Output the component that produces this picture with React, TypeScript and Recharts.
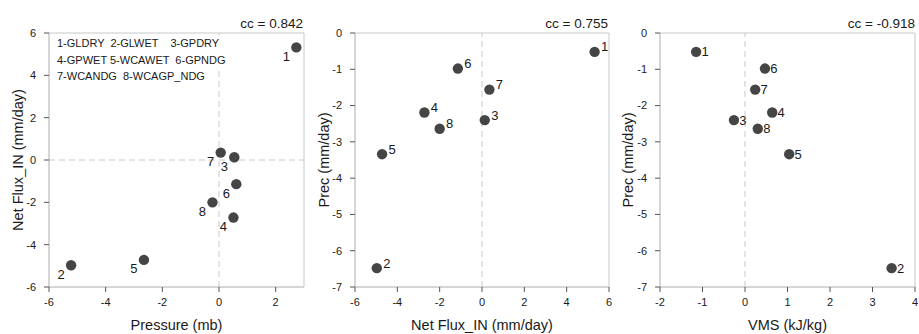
import React from "react";
import {
  ScatterChart,
  Scatter,
  XAxis,
  YAxis,
  ReferenceLine,
  ReferenceArea,
} from "recharts";

const ids = [1, 2, 3, 4, 5, 6, 7, 8];
const pressure = [2.73, -5.22, 0.54, 0.51, -2.65, 0.61, 0.06, -0.23];
const netFlux = [5.32, -4.97, 0.13, -2.72, -4.72, -1.14, 0.35, -2.0];
const prec = [-0.52, -6.48, -2.4, -2.19, -3.34, -0.98, -1.56, -2.64];
const vms = [-1.15, 3.45, -0.26, 0.64, 1.04, 0.47, 0.24, 0.3];

// legend rows as they are typed in the original figure
const legendRows = [
  "1-GLDRY  2-GLWET    3-GPDRY",
  "4-GPWET 5-WCAWET  6-GPNDG",
  "7-WCANDG  8-WCAGP_NDG",
];
const ccValues = ["cc = 0.842", "cc = 0.755", "cc = -0.918"];

const FONT = "'Liberation Sans', Arial, Helvetica, sans-serif";
const DOT = "#454545";
const BOX = "#c8c8c8";
const TICK = "#555";
const TEXT = "#1a1a1a";

type Pt = { id: number; x: number; y: number };

const zip = (xs: number[], ys: number[]): Pt[] =>
  ids.map((id, i) => ({ id, x: xs[i], y: ys[i] }));

const panel1 = zip(pressure, netFlux);
const panel2 = zip(netFlux, prec);
const panel3 = zip(vms, prec);

// dot plus its number, offset differs per panel
const makeShape = (dx: number, dy: number) => (props: any) => {
  const { cx, cy, payload } = props;
  return (
    <g>
      <circle cx={cx} cy={cy} r={5.2} fill={DOT} />
      <text
        x={cx + dx}
        y={cy + dy}
        textAnchor="middle"
        dominantBaseline="central"
        fontSize={13}
        fill={TEXT}
      >
        {payload.id}
      </text>
    </g>
  );
};

const yTitle = (text: string, x: number) => (props: any) => {
  const vb = props.viewBox;
  const cy = vb.y + vb.height / 2;
  return (
    <text
      x={x}
      y={cy}
      transform={`rotate(-90 ${x} ${cy})`}
      textAnchor="middle"
      dominantBaseline="central"
      fontSize={14.5}
      fill={TEXT}
    >
      {text}
    </text>
  );
};

const xTitle = (text: string) => (props: any) => {
  const vb = props.viewBox;
  return (
    <text
      x={vb.x + vb.width / 2}
      y={vb.y + 38}
      textAnchor="middle"
      dominantBaseline="central"
      fontSize={14.5}
      fill={TEXT}
    >
      {text}
    </text>
  );
};

interface PanelProps {
  data: Pt[];
  width: number;
  yWidth: number;
  right: number;
  xDomain: [number, number];
  yDomain: [number, number];
  xTicks: number[];
  yTicks: number[];
  xLabel: string;
  yLabel: string;
  yLabelX: number;
  zeroY: boolean;
  dx: number;
  dy: number;
}

function Panel(p: PanelProps) {
  const tick = { fontSize: 11, fill: TEXT };
  return (
    <ScatterChart
      width={p.width}
      height={334}
      margin={{ top: 33, right: p.right, bottom: 0, left: 0 }}
    >
      <XAxis
        type="number"
        dataKey="x"
        domain={p.xDomain}
        ticks={p.xTicks}
        allowDataOverflow
        height={47}
        tickSize={5}
        tickMargin={6}
        axisLine={{ stroke: BOX }}
        tickLine={{ stroke: TICK }}
        tick={tick}
        label={xTitle(p.xLabel)}
      />
      <YAxis
        type="number"
        dataKey="y"
        domain={p.yDomain}
        ticks={p.yTicks}
        allowDataOverflow
        width={p.yWidth}
        tickSize={5}
        tickMargin={8}
        axisLine={{ stroke: BOX }}
        tickLine={{ stroke: TICK }}
        tick={tick}
        label={yTitle(p.yLabel, p.yLabelX)}
      />
      <ReferenceArea
        x1={p.xDomain[0]}
        x2={p.xDomain[1]}
        y1={p.yDomain[0]}
        y2={p.yDomain[1]}
        fill="none"
        stroke={BOX}
      />
      <ReferenceLine x={0} stroke={BOX} strokeDasharray="6 4" />
      {p.zeroY && <ReferenceLine y={0} stroke={BOX} strokeDasharray="6 4" />}
      <Scatter
        data={p.data}
        isAnimationActive={false}
        shape={makeShape(p.dx, p.dy)}
      />
    </ScatterChart>
  );
}

export default function App() {
  return (
    <div
      style={{
        position: "absolute",
        left: 0,
        top: 0,
        width: 919,
        height: 334,
        background: "#fff",
        fontFamily: FONT,
      }}
    >
      <div style={{ position: "absolute", left: 0, top: 0 }}>
        <Panel
          data={panel1}
          width={310}
          yWidth={49}
          right={6}
          xDomain={[-6, 3]}
          yDomain={[-6, 6]}
          xTicks={[-6, -4, -2, 0, 2]}
          yTicks={[-6, -4, -2, 0, 2, 4, 6]}
          xLabel="Pressure (mb)"
          yLabel="Net Flux_IN (mm/day)"
          yLabelX={18}
          zeroY
          dx={-10}
          dy={9}
        />
      </div>
      <div style={{ position: "absolute", left: 310, top: 0 }}>
        <Panel
          data={panel2}
          width={305}
          yWidth={45}
          right={6}
          xDomain={[-6, 6]}
          yDomain={[-7, 0]}
          xTicks={[-6, -4, -2, 0, 2, 4, 6]}
          yTicks={[-7, -6, -5, -4, -3, -2, -1, 0]}
          xLabel="Net Flux_IN (mm/day)"
          yLabel="Prec (mm/day)"
          yLabelX={14}
          zeroY={false}
          dx={10}
          dy={-5}
        />
      </div>
      <div style={{ position: "absolute", left: 615, top: 0 }}>
        <Panel
          data={panel3}
          width={304}
          yWidth={45}
          right={4}
          xDomain={[-2, 4]}
          yDomain={[-7, 0]}
          xTicks={[-2, -1, 0, 1, 2, 3, 4]}
          yTicks={[-7, -6, -5, -4, -3, -2, -1, 0]}
          xLabel="VMS (kJ/kg)"
          yLabel="Prec (mm/day)"
          yLabelX={13}
          zeroY={false}
          dx={9}
          dy={0}
        />
      </div>
      {/* legend block in the first panel, white behind the top two rows */}
      <div
        style={{
          position: "absolute",
          left: 54,
          top: 35,
          width: 176,
          height: 34,
          background: "#fff",
        }}
      />
      {legendRows.map((t, i) => (
        <div
          key={t}
          style={{
            position: "absolute",
            left: 57,
            top: 35 + i * 16.7,
            fontSize: 11,
            lineHeight: "16px",
            color: TEXT,
            whiteSpace: "pre",
          }}
        >
          {t}
        </div>
      ))}
      {ccValues.map((t, i) => (
        <div
          key={t}
          style={{
            position: "absolute",
            right: [919 - 303, 919 - 608, 919 - 915][i],
            top: 15,
            fontSize: 13.5,
            lineHeight: "17px",
            color: TEXT,
            whiteSpace: "nowrap",
          }}
        >
          {t}
        </div>
      ))}
    </div>
  );
}
